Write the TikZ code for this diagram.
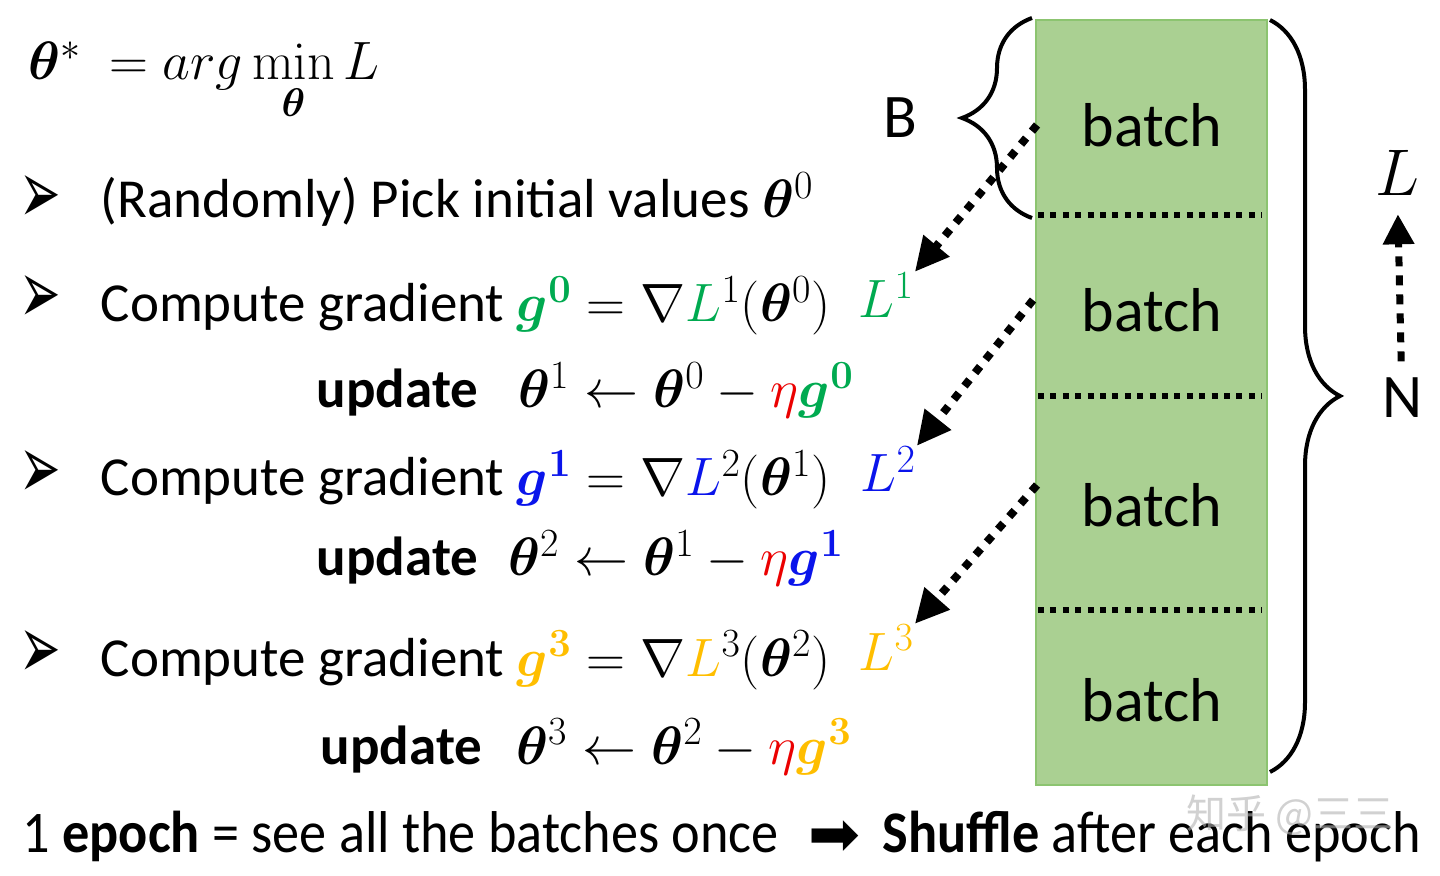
\RequirePackage{fix-cm}
\documentclass[tikz,border=0pt]{standalone}
\usepackage{amsmath,bm}
\usepackage[no-math]{fontspec}
\setmainfont{Carlito}
\newfontfamily\dingfont{DejaVu Sans}
\newfontfamily\cjkfont{Noto Sans CJK SC}
\usetikzlibrary{arrows.meta,decorations.pathreplacing}
\DeclareMathSizes{27}{27}{20}{14}

\definecolor{ggreen}{RGB}{0,170,80}
\definecolor{gblue}{RGB}{10,20,235}
\definecolor{gorange}{RGB}{255,190,0}
\definecolor{etared}{RGB}{235,0,0}
\definecolor{batchfill}{RGB}{170,208,146}
\definecolor{batchedge}{RGB}{140,196,112}

\newcommand{\bth}{\bm{\theta}}
\newcommand{\gvec}[2]{{\color{#1}\bm{g}^{\mathbf{#2}}}}
\newcommand{\mth}[1]{{\fontsize{27}{32}\selectfont$#1$}}
\newcommand{\bul}{{\dingfont\scalebox{0.8}[1.45]{➢}}}

\tikzset{every picture/.style={line width=0.75pt}}
\tikzset{
  txt/.style={font=\fontsize{27.5}{33}\selectfont, anchor=base west, inner sep=0pt},
  lbl/.style={font=\fontsize{31}{36}\selectfont, inner sep=0pt},
  sepline/.style={line width=3pt, dash pattern=on 3pt off 3.2pt},
  feed/.style={line width=4pt, dash pattern=on 4pt off 4.5pt, -{Triangle[length=17pt,width=16pt]}},
  upfeed/.style={line width=3.5pt, dash pattern=on 5pt off 4.5pt, -{Triangle[length=15pt,width=15pt]}},
  brc/.style={line width=2pt, decorate, decoration={brace, amplitude=35pt}},
}

\begin{document}
\begin{tikzpicture}[x=0.5pt,y=0.5pt,yscale=-1,xscale=1]
\useasboundingbox (0,0) rectangle (1440,876);

% Objective
\draw (28,80) node [txt] (obj) {\mth{\bth^{*}\ = arg\min\limits_{\bth} L}};

% Bullets and steps
\draw (40,200) node [lbl] (k0) {\bul};
\draw (100,218) node [txt] (init) {(Randomly) Pick initial values \mth{\bth^{0}}};
\draw (40,300) node [lbl] (k1) {\bul};
\draw (100,322) node [txt] (grad1) {Compute gradient \mth{\gvec{ggreen}{0} = \nabla {\color{ggreen}L}^{1}(\bth^{0})}};
\draw (316,408) node [txt] (upd1) {\textbf{update}\hspace{20pt}\mth{\bth^{1} \leftarrow \bth^{0} - {\color{etared}\eta}\gvec{ggreen}{0}}};
\draw (40,475) node [lbl] (k2) {\bul};
\draw (100,496) node [txt] (grad2) {Compute gradient \mth{\gvec{gblue}{1} = \nabla {\color{gblue}L}^{2}(\bth^{1})}};
\draw (316,576) node [txt] (upd2) {\textbf{update}\hspace{15pt}\mth{\bth^{2} \leftarrow \bth^{1} - {\color{etared}\eta}\gvec{gblue}{1}}};
\draw (40,655) node [lbl] (k3) {\bul};
\draw (100,676) node [txt] (grad3) {Compute gradient \mth{\gvec{gorange}{3} = \nabla {\color{gorange}L}^{3}(\bth^{2})}};
\draw (320,764) node [txt] (upd3) {\textbf{update}\hspace{17pt}\mth{\bth^{3} \leftarrow \bth^{2} - {\color{etared}\eta}\gvec{gorange}{3}}};

% Loss labels
\draw (858,318) node [txt,text=ggreen] (L1) {\mth{L^{1}}};
\draw (860,492) node [txt,text=gblue] (L2) {\mth{L^{2}}};
\draw (858,670) node [txt,text=gorange] (L3) {\mth{L^{3}}};

% Batch column
\draw [fill=batchfill, draw=batchedge, line width=1pt] (1036,20) rectangle (1267,785);
\draw [sepline] (1038,215) -- (1262,215);
\draw [sepline] (1038,396) -- (1262,396);
\draw [sepline] (1038,610) -- (1262,610);
\draw (1152,125) node [lbl] (b1) {batch};
\draw (1152,310) node [lbl] (b2) {batch};
\draw (1152,505) node [lbl] (b3) {batch};
\draw (1152,700) node [lbl] (b4) {batch};

% Braces
\draw [brc] (1032,218) -- (1032,18);
\draw (900,118) node [lbl] (Bsz) {B};
\draw [brc] (1270,20) -- (1270,772);
\draw (1402,398) node [lbl] (Nsz) {N};
\draw (1397,173) node [lbl, font=\fontsize{33}{38}\selectfont] (Lax) {$L$};
\draw [upfeed, shorten <=8pt, shorten >=9pt] (Nsz) -- (Lax);

% Batch to loss
\coordinate (s1) at (1037,125);
\coordinate (s2) at (1033,300);
\coordinate (s3) at (1037,485);
\draw [feed] (s1) -- (L1.north east);
\draw [feed] (s2) -- (L2.north east);
\draw [feed] (s3) -- (L3.north east);

% Bottom line
\draw (22,852) node [txt, font=\fontsize{29.5}{34}\selectfont] (epoch) {\scalebox{0.92}[1]{1 \textbf{epoch} = see all the batches once}};
\draw (834,838) node [lbl] (arr) {\dingfont ➡};
\draw (882,852) node [txt, font=\fontsize{29.5}{34}\selectfont] (shuf) {\scalebox{0.92}[1]{\textbf{Shuffle} after each epoch}};
\draw (1290,815) node [font=\fontsize{20}{24}\selectfont\cjkfont, text=gray!60, opacity=0.6] (wm) {知乎 @三三};

\end{tikzpicture}
\end{document}
